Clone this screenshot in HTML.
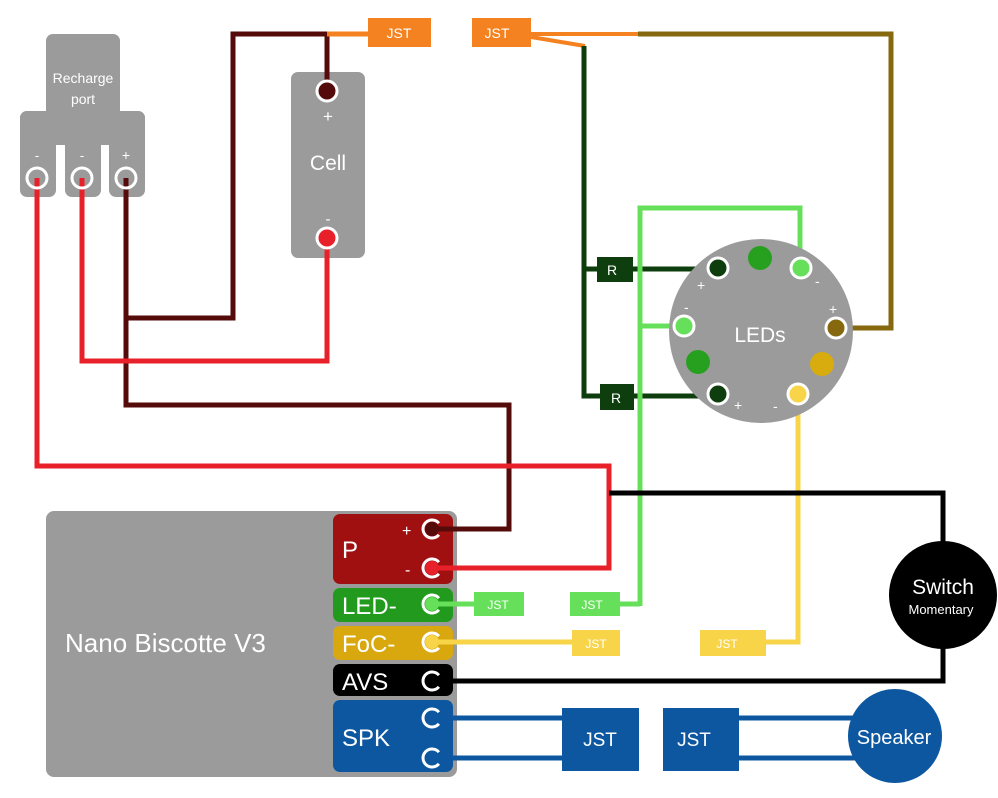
<!DOCTYPE html>
<html><head><meta charset="utf-8"><style>
html,body{margin:0;padding:0;background:#fff;}
svg{display:block;font-family:"Liberation Sans",sans-serif;}
</style></head><body>
<svg width="998" height="798" viewBox="0 0 998 798" xmlns="http://www.w3.org/2000/svg">
<rect width="998" height="798" fill="#fff"/>
<rect x="46" y="34" width="74" height="90" rx="7" fill="#9b9b9b"/>
<rect x="20" y="111" width="36" height="86" rx="7" fill="#9b9b9b"/>
<rect x="65" y="111" width="36" height="86" rx="7" fill="#9b9b9b"/>
<rect x="109" y="111" width="36" height="86" rx="7" fill="#9b9b9b"/>
<rect x="20" y="111" width="125" height="34" rx="7" fill="#9b9b9b"/>
<text x="83" y="83" font-size="14" fill="#fff" text-anchor="middle">Recharge</text>
<text x="83" y="104" font-size="14" fill="#fff" text-anchor="middle">port</text>
<text x="37" y="160" font-size="13" fill="#fff" text-anchor="middle">-</text>
<text x="82" y="160" font-size="13" fill="#fff" text-anchor="middle">-</text>
<text x="126" y="160" font-size="14" fill="#fff" text-anchor="middle">+</text>
<rect x="291" y="72" width="74" height="186" rx="7" fill="#9b9b9b"/>
<text x="328" y="170" font-size="21" fill="#fff" text-anchor="middle">Cell</text>
<text x="328" y="122" font-size="17" fill="#fff" text-anchor="middle">+</text>
<text x="328" y="224" font-size="15" fill="#fff" text-anchor="middle">-</text>
<rect x="46" y="511" width="411" height="266" rx="8" fill="#9b9b9b"/>
<text x="65" y="652" font-size="26" fill="#fff">Nano Biscotte V3</text>
<rect x="333" y="514" width="120" height="70" rx="7" fill="#a01010"/>
<rect x="333" y="588" width="120" height="34" rx="7" fill="#229a1d"/>
<rect x="333" y="626" width="120" height="34" rx="7" fill="#d8a80e"/>
<rect x="333" y="664" width="120" height="32" rx="7" fill="#000"/>
<rect x="333" y="700" width="120" height="72" rx="7" fill="#0d57a0"/>
<text x="342" y="558" font-size="24" fill="#fff">P</text>
<text x="402" y="536" font-size="16" fill="#fff">+</text>
<text x="405" y="575" font-size="16" fill="#fff">-</text>
<text x="342" y="614" font-size="24" fill="#fff">LED-</text>
<text x="342" y="652" font-size="24" fill="#fff">FoC-</text>
<text x="342" y="690" font-size="24" fill="#fff">AVS</text>
<text x="342" y="746" font-size="24" fill="#fff">SPK</text>
<g fill="none" stroke-linejoin="miter">
<path d="M126 178 V405 H509 V529 H432" stroke="#560b0b" stroke-width="5"/>
<path d="M126 318 H233 V34 H327 V91" stroke="#560b0b" stroke-width="5"/>
<path d="M327 34 H370" stroke="#f58220" stroke-width="5"/>
<path d="M37 178 V466 H609 V568 H432" stroke="#e8202a" stroke-width="5"/>
<path d="M82 178 V361 H327 V238" stroke="#e8202a" stroke-width="5"/>
<path d="M531 34 H638" stroke="#f58220" stroke-width="4"/>
<path d="M531 37 L585 46" stroke="#f58220" stroke-width="4"/>
<path d="M638 34 H891 V328 H836" stroke="#86690f" stroke-width="5"/>
<path d="M584 46 V396 H718 M584 269 H718" stroke="#0e3d0e" stroke-width="5"/>
<path d="M640 606 V208 H800 V268 M640 326 H684 M640 604 H600" stroke="#66e05a" stroke-width="5"/>
<path d="M432 604 H480" stroke="#66e05a" stroke-width="5"/>
<path d="M798 394 V642 H760 M432 642 H580" stroke="#f8d548" stroke-width="5"/>
<path d="M609 493 H943 V681 H432" stroke="#000" stroke-width="5"/>
<path d="M432 718 H570 M432 758 H570 M735 718 H860 M735 758 H860" stroke="#0d57a0" stroke-width="5"/>
</g>
<rect x="368" y="18" width="63" height="29" fill="#f58220"/>
<text x="399" y="38" font-size="14" fill="#fff" text-anchor="middle">JST</text>
<rect x="472" y="18" width="59" height="29" fill="#f58220"/>
<text x="497" y="38" font-size="14" fill="#fff" text-anchor="middle">JST</text>
<rect x="474" y="592" width="50" height="24" fill="#66e05a"/>
<text x="498" y="609" font-size="12" fill="#fff" text-anchor="middle">JST</text>
<rect x="570" y="592" width="50" height="24" fill="#66e05a"/>
<text x="592" y="609" font-size="12" fill="#fff" text-anchor="middle">JST</text>
<rect x="572" y="630" width="48" height="26" fill="#f8d548"/>
<text x="596" y="648" font-size="12" fill="#fff" text-anchor="middle">JST</text>
<rect x="700" y="630" width="66" height="26" fill="#f8d548"/>
<text x="727" y="648" font-size="12" fill="#fff" text-anchor="middle">JST</text>
<rect x="562" y="708" width="77" height="63" fill="#0d57a0"/>
<text x="600" y="746" font-size="19" fill="#fff" text-anchor="middle">JST</text>
<rect x="663" y="708" width="76" height="63" fill="#0d57a0"/>
<text x="694" y="746" font-size="19" fill="#fff" text-anchor="middle">JST</text>
<rect x="597" y="257" width="36" height="25" fill="#0e3d0e"/>
<text x="612" y="275" font-size="14" fill="#fff" text-anchor="middle">R</text>
<rect x="600" y="384" width="34" height="26" fill="#0e3d0e"/>
<text x="616" y="403" font-size="14" fill="#fff" text-anchor="middle">R</text>
<circle cx="761" cy="331" r="92" fill="#9b9b9b"/>
<text x="760" y="342" font-size="21" fill="#fff" text-anchor="middle">LEDs</text>
<circle cx="760" cy="258" r="12" fill="#27a01f"/>
<circle cx="698" cy="362" r="12" fill="#27a01f"/>
<circle cx="822" cy="364" r="12" fill="#d8ac0f"/>
<g stroke="#fff" stroke-width="3">
<circle cx="718" cy="268" r="10" fill="#0e3d0e"/>
<circle cx="801" cy="268" r="10" fill="#66e05a"/>
<circle cx="684" cy="326" r="10" fill="#66e05a"/>
<circle cx="836" cy="328" r="10" fill="#86690f"/>
<circle cx="718" cy="394" r="10" fill="#0e3d0e"/>
<circle cx="798" cy="394" r="10" fill="#f8d548"/>
<circle cx="37" cy="178" r="10" fill="none"/>
<circle cx="82" cy="178" r="10" fill="none"/>
<circle cx="126" cy="178" r="10" fill="none"/>
<circle cx="327" cy="91" r="10" fill="#560b0b"/>
<circle cx="327" cy="238" r="10" fill="#e8202a"/>
</g>
<g fill="#fff" font-size="14">
<text x="697" y="290">+</text><text x="815" y="286">-</text>
<text x="684" y="312">-</text><text x="829" y="314">+</text>
<text x="734" y="410">+</text><text x="773" y="411">-</text>
</g>
<g stroke="#fff" stroke-width="3" fill="none">
<path d="M438.9 523.2 a9 9 0 1 0 0 11.6"/>
<path d="M438.9 562.2 a9 9 0 1 0 0 11.6"/>
<path d="M438.9 598.2 a9 9 0 1 0 0 11.6"/>
<path d="M438.9 636.2 a9 9 0 1 0 0 11.6"/>
<path d="M438.9 675.2 a9 9 0 1 0 0 11.6"/>
<path d="M438.9 712.2 a9 9 0 1 0 0 11.6"/>
<path d="M438.9 752.2 a9 9 0 1 0 0 11.6"/>
</g>
<circle cx="432" cy="529" r="7" fill="#560b0b"/>
<circle cx="432" cy="568" r="7" fill="#e8202a"/>
<circle cx="432" cy="604" r="7" fill="#66e05a"/>
<circle cx="432" cy="642" r="7" fill="#f8d548"/>
<circle cx="943" cy="595" r="54" fill="#000"/>
<text x="943" y="594" font-size="21" fill="#fff" text-anchor="middle">Switch</text>
<text x="941" y="614" font-size="13" fill="#fff" text-anchor="middle">Momentary</text>
<circle cx="895" cy="736" r="47" fill="#0d57a0"/>
<text x="894" y="744" font-size="20" fill="#fff" text-anchor="middle">Speaker</text>
</svg>
</body></html>
